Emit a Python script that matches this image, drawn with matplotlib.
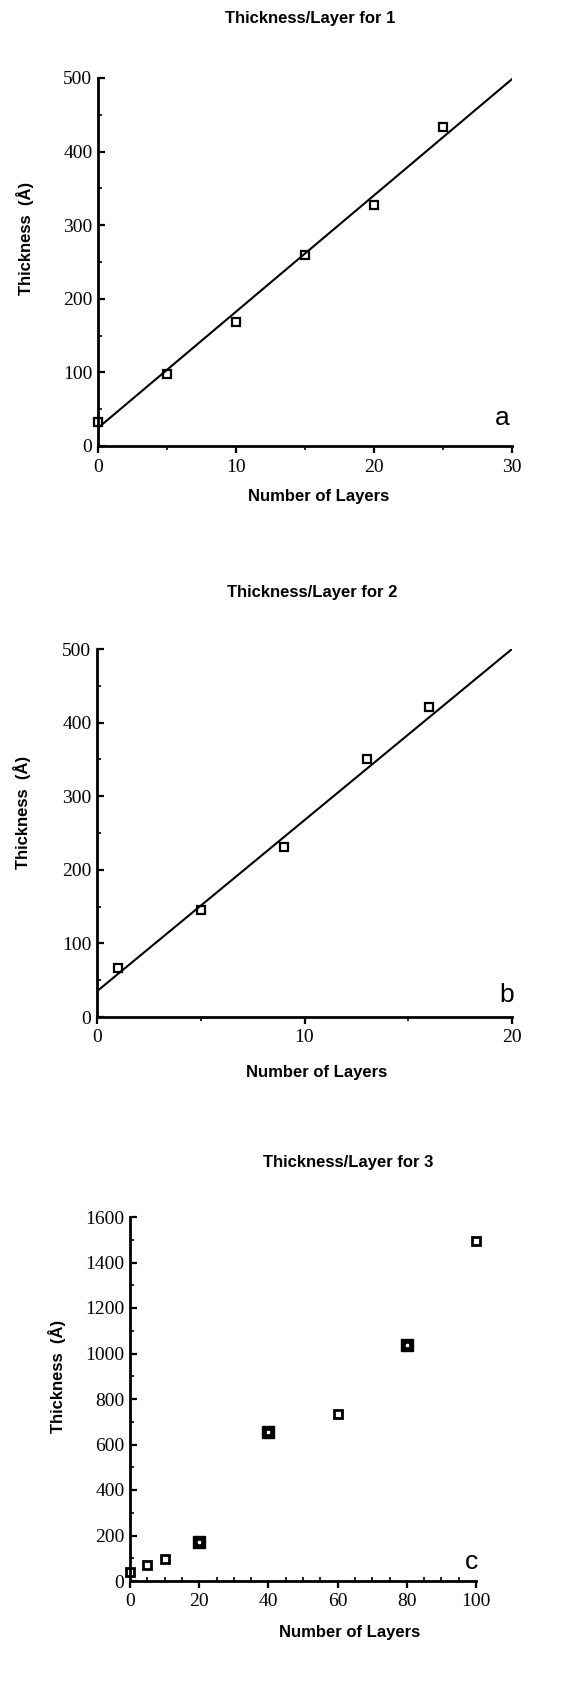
import numpy as np
import matplotlib.pyplot as plt
from matplotlib.ticker import MultipleLocator

# Données
layers_1 = [0, 5, 10, 15, 20, 25]
thick_1 = [33, 98, 168, 260, 327, 434]
fit_1 = (15.8, 24.5)   # pente, ordonnée à l'origine

layers_2 = [1, 5, 9, 13, 16]
thick_2 = [67, 145, 231, 351, 421]
fit_2 = (23.25, 35.0)

layers_3 = [0, 5, 10, 20, 40, 60, 80, 100]
thick_3 = [41, 70, 97, 170, 654, 732, 1037, 1494]

W, H = 582, 1682
fig = plt.figure(figsize=(W / 100, H / 100), dpi=100)

serif = "Liberation Serif"
sans = "Liberation Sans"
lab_fs = 12


def box(left, top, right, bottom):
    return [left / W, 1 - bottom / H, (right - left) / W, (bottom - top) / H]


def style_axes(ax, xmax, xmaj, xmin, ymax, ymaj, ymin, xminor_dir="out"):
    ax.set_xlim(0, xmax)
    ax.set_ylim(0, ymax)
    for s in ["top", "right"]:
        ax.spines[s].set_visible(False)
    for s in ["left", "bottom"]:
        ax.spines[s].set_linewidth(2.0)
    ax.xaxis.set_major_locator(MultipleLocator(xmaj))
    ax.xaxis.set_minor_locator(MultipleLocator(xmin))
    ax.yaxis.set_major_locator(MultipleLocator(ymaj))
    ax.yaxis.set_minor_locator(MultipleLocator(ymin))
    ax.tick_params(axis="x", which="major", direction="out", length=5, width=1.6, pad=4)
    ax.tick_params(axis="x", which="minor", direction=xminor_dir, length=3, width=1.2)
    ax.tick_params(axis="y", which="major", direction="in", length=5, width=1.6, pad=4)
    ax.tick_params(axis="y", which="minor", direction="in", length=3, width=1.2)
    for lab in ax.get_xticklabels() + ax.get_yticklabels():
        lab.set_fontfamily(serif)
        lab.set_fontsize(14)


def labels(title, tx, ty, xx, xy, yx, yy, letter, lx, ly):
    fig.text(tx / W, 1 - ty / H, title, ha="center", va="center",
             family=sans, weight="bold", fontsize=lab_fs)
    fig.text(xx / W, 1 - xy / H, "Number of Layers", ha="center", va="center",
             family=sans, weight="bold", fontsize=lab_fs)
    fig.text(yx / W, 1 - yy / H, "Thickness  (Å)", ha="center", va="center",
             rotation=90, family=sans, weight="bold", fontsize=lab_fs)
    fig.text(lx / W, 1 - ly / H, letter, ha="center", va="center",
             family=sans, fontsize=19)


mk = dict(marker="s", linestyle="none", markerfacecolor="white",
          markeredgecolor="black", markeredgewidth=1.6, markersize=5.5,
          clip_on=False)

# --- a ---
ax1 = fig.add_axes(box(98, 78, 512, 446))
ax1.plot(layers_1, thick_1, **mk)
xl = np.array([0, 30])
ax1.plot(xl, fit_1[0] * xl + fit_1[1], color="black", lw=1.5)
style_axes(ax1, 30, 10, 5, 500, 100, 50)
labels("Thickness/Layer for 1", 310, 18, 319, 497, 25, 238, "a", 502, 418)

# --- b ---
ax2 = fig.add_axes(box(97, 649, 512, 1017))
ax2.plot(layers_2, thick_2, **mk)
xl = np.array([0, 20])
ax2.plot(xl, fit_2[0] * xl + fit_2[1], color="black", lw=1.5)
style_axes(ax2, 20, 10, 5, 500, 100, 50)
labels("Thickness/Layer for 2", 312, 592, 317, 1073, 22, 812, "b", 507, 995)

# --- c ---
ax3 = fig.add_axes(box(130, 1217, 476, 1581))
# les points doublés apparaissent plus gros et pleins
big = [False, False, False, True, True, False, True, False]
for x, y, b in zip(layers_3, thick_3, big):
    if b:
        ax3.plot(x, y, marker="s", markersize=8.5, markerfacecolor="black",
                 markeredgecolor="black", clip_on=False)
        ax3.plot(x, y, marker="s", markersize=1.5, markerfacecolor="white",
                 markeredgecolor="white", clip_on=False)
    else:
        ax3.plot(x, y, marker="s", markersize=6, markerfacecolor="white",
                 markeredgecolor="black", markeredgewidth=2.0, clip_on=False)
style_axes(ax3, 100, 20, 5, 1600, 200, 100, xminor_dir="in")
labels("Thickness/Layer for 3", 348, 1162, 350, 1633, 57, 1376, "c", 472, 1562)

fig.savefig("out.png", dpi=100)
plt.close(fig)
